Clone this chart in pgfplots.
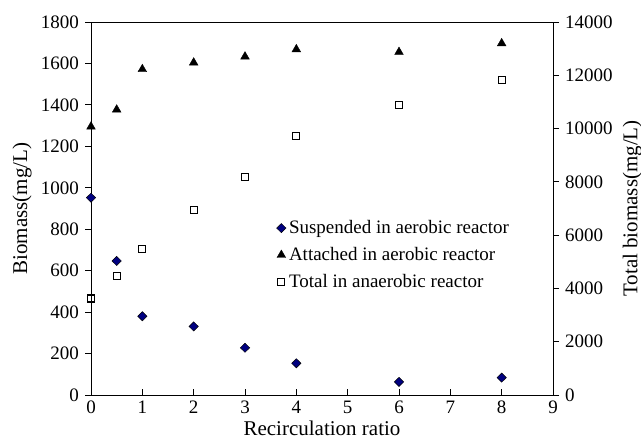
\documentclass[border=0pt]{standalone}
\usepackage{pgfplots}
\pgfplotsset{compat=1.18}
\usepackage{fontspec}
\setmainfont{Liberation Serif}
\usetikzlibrary{calc}
\begin{document}
\rmfamily\fontsize{18}{21}\selectfont
\begin{tikzpicture}[font=\rmfamily]
\begin{axis}[
  scale only axis, width=462pt, height=373pt,
  at={(0,0)}, anchor=south west,
  xmin=0, xmax=9, ymin=0, ymax=1800,
  xtick={0,1,...,9}, ytick={0,200,...,1800},
  xtick pos=bottom, ytick pos=left,
  xtick align=inside, ytick align=outside,
  major tick length=6pt,
  tick style={black, line width=0.8pt},
  axis line style={line width=0.8pt},
  /pgf/number format/assume math mode=true,
  /pgf/number format/1000 sep={},
  ticklabel style={font=\rmfamily\fontsize{19}{21}\selectfont},
  label style={font=\rmfamily\fontsize{21}{23}\selectfont},
  xlabel={Recirculation ratio},
  ylabel={Biomass(mg/L)},
  xlabel style={yshift=5pt},
  ylabel style={yshift=-3pt},
  clip=false,
]
\addplot[only marks, mark=diamond*, mark size=4.6pt, mark options={xscale=1.35, fill=blue!50!black, draw=black, line width=0.5pt}] coordinates {
(0,952) (0.5,647) (1,380) (2,331) (3,228) (4,153) (6,63) (8,84)};
\addplot[only marks, mark=triangle*, mark size=5pt, mark options={fill=black, draw=black}] coordinates {
(0,1295) (0.5,1377) (1,1572) (2,1604) (3,1633) (4,1668) (6,1655) (8,1697)};
\coordinate (A) at (rel axis cs:0,0);
\coordinate (B) at (rel axis cs:1,1);
\end{axis}
\begin{axis}[
  scale only axis, width=462pt, height=373pt,
  at={(0,0)}, anchor=south west,
  xmin=0, xmax=9, ymin=0, ymax=14000,
  axis x line=none, axis y line*=right,
  ytick={0,2000,...,14000},
  scaled y ticks=false,
  ytick align=outside,
  major tick length=6pt,
  tick style={black, line width=0.8pt},
  axis line style={line width=0.8pt},
  /pgf/number format/assume math mode=true,
  /pgf/number format/1000 sep={},
  ticklabel style={font=\rmfamily\fontsize{19}{21}\selectfont},
  label style={font=\rmfamily\fontsize{21}{23}\selectfont},
  ylabel={Total biomass(mg/L)},
  ylabel style={yshift=2pt},
  legend style={draw=none, fill=none, at={(0.395,0.48)}, anchor=north west,
    font=\rmfamily\fontsize{19}{21}\selectfont, row sep=7pt,
    nodes={inner xsep=3pt}},
  legend cell align=left,
  clip=false,
]
\addlegendimage{only marks, mark=diamond*, mark size=4.6pt, mark options={xscale=1.35, fill=blue!50!black, draw=black, line width=0.5pt}}
\addlegendentry{Suspended in aerobic reactor}
\addlegendimage{only marks, mark=triangle*, mark size=5pt, mark options={fill=black, draw=black}}
\addlegendentry{Attached in aerobic reactor}
\addplot[only marks, mark=square, mark size=3.5pt, mark options={draw=black, line width=1.1pt}] coordinates {
(0,3624) (0.5,4464) (1,5491) (2,6946) (3,8198) (4,9738) (6,10873) (8,11822)};
\addlegendentry{Total in anaerobic reactor}
\end{axis}
\pgfresetboundingbox
\path ($(A)+(-91pt,-52pt)$) rectangle ($(B)+(88pt,22pt)$);
\end{tikzpicture}
\end{document}
